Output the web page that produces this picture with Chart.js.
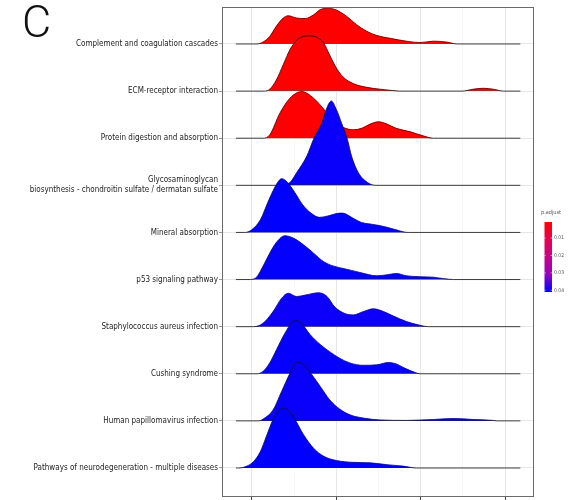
<!DOCTYPE html>
<html>
<head>
<meta charset="utf-8">
<script src="https://cdn.jsdelivr.net/npm/chart.js@4.4.1/dist/chart.umd.min.js"></script>
<style>
  html, body { margin: 0; padding: 0; background: #ffffff; }
  #wrap { position: relative; width: 572px; height: 500px; }
</style>
</head>
<body>
<div id="wrap"><canvas id="ridges" width="572" height="500"></canvas></div>
<script>
// Enriched pathways, top to bottom
const pathwayNames = [
  'Complement and coagulation cascades',
  'ECM-receptor interaction',
  'Protein digestion and absorption',
  ['Glycosaminoglycan', 'biosynthesis - chondroitin sulfate / dermatan sulfate'],
  'Mineral absorption',
  'p53 signaling pathway',
  'Staphylococcus aureus infection',
  'Cushing syndrome',
  'Human papillomavirus infection',
  'Pathways of neurodegeneration - multiple diseases'
];

// Adjusted p-values, same order
const pAdjust = [0.0008, 0.0009, 0.0010, 0.0405, 0.0410, 0.0408, 0.0402, 0.0407, 0.0404, 0.0410];

// Colour-bar labels
const legendBreaks = [0.01, 0.02, 0.03, 0.04];

// x-axis ticks
const xMajorTicks = [1, 2, 3, 4];
const xMinorTicks = [1.5, 2.5, 3.5];

// Density curves (x positions and heights, one row = 1.0)
const complementX = [0.81, 1.06, 1.13, 1.21, 1.29, 1.37, 1.43, 1.53, 1.63, 1.73, 1.81, 1.90, 2.00, 2.12, 2.24, 2.36, 2.48, 2.64, 2.83, 2.99, 3.15, 3.31, 3.43, 4.18];
const complementD = [0, 0, 0.04, 0.16, 0.38, 0.55, 0.60, 0.55, 0.54, 0.62, 0.73, 0.76, 0.72, 0.59, 0.41, 0.27, 0.18, 0.12, 0.06, 0.03, 0.06, 0.04, 0, 0];

const ecmX = [0.81, 1.15, 1.21, 1.29, 1.37, 1.45, 1.53, 1.61, 1.68, 1.77, 1.85, 1.92, 2.00, 2.08, 2.20, 2.36, 2.52, 2.67, 2.75, 3.49, 3.62, 3.74, 3.86, 3.98, 4.18];
const ecmD = [0, 0, 0.04, 0.24, 0.56, 0.88, 1.08, 1.16, 1.17, 1.14, 1.02, 0.77, 0.49, 0.30, 0.16, 0.08, 0.04, 0.01, 0, 0, 0.04, 0.06, 0.04, 0, 0];

const proteinX = [0.81, 1.13, 1.21, 1.33, 1.45, 1.59, 1.73, 1.85, 1.96, 2.08, 2.20, 2.30, 2.40, 2.50, 2.60, 2.71, 2.87, 3.03, 3.15, 4.18];
const proteinD = [0, 0, 0.07, 0.53, 0.85, 0.99, 0.85, 0.62, 0.38, 0.23, 0.18, 0.21, 0.30, 0.35, 0.30, 0.21, 0.14, 0.05, 0, 0];

const glycoX = [0.81, 1.33, 1.45, 1.53, 1.65, 1.73, 1.83, 1.88, 1.94, 2.00, 2.06, 2.13, 2.18, 2.26, 2.37, 2.47, 4.18];
const glycoD = [0, 0, 0.06, 0.27, 0.62, 0.98, 1.33, 1.61, 1.79, 1.61, 1.33, 0.98, 0.62, 0.27, 0.06, 0, 0];

const mineralX = [0.81, 0.92, 1.00, 1.10, 1.20, 1.30, 1.35, 1.40, 1.50, 1.60, 1.70, 1.80, 1.90, 2.00, 2.06, 2.10, 2.20, 2.30, 2.40, 2.50, 2.60, 2.70, 2.80, 2.85, 4.18];
const mineralD = [0, 0, 0.06, 0.27, 0.69, 1.05, 1.14, 1.10, 0.87, 0.59, 0.41, 0.32, 0.35, 0.40, 0.41, 0.40, 0.30, 0.21, 0.18, 0.15, 0.11, 0.06, 0.01, 0, 0];

const p53X = [0.81, 0.98, 1.06, 1.13, 1.21, 1.29, 1.39, 1.49, 1.61, 1.73, 1.85, 1.96, 2.12, 2.28, 2.48, 2.60, 2.71, 2.83, 2.99, 3.15, 3.27, 3.39, 4.18];
const p53D = [0, 0, 0.06, 0.28, 0.56, 0.79, 0.93, 0.88, 0.74, 0.56, 0.38, 0.29, 0.22, 0.15, 0.08, 0.10, 0.13, 0.08, 0.06, 0.05, 0.02, 0, 0];

const staphX = [0.81, 1.02, 1.13, 1.25, 1.35, 1.43, 1.53, 1.63, 1.79, 1.89, 1.98, 2.10, 2.20, 2.32, 2.44, 2.56, 2.67, 2.83, 2.99, 3.09, 4.18];
const staphD = [0, 0, 0.07, 0.32, 0.60, 0.71, 0.64, 0.67, 0.72, 0.64, 0.42, 0.28, 0.25, 0.32, 0.38, 0.32, 0.23, 0.11, 0.03, 0, 0];

const cushingX = [0.81, 1.06, 1.13, 1.21, 1.29, 1.39, 1.47, 1.52, 1.59, 1.69, 1.81, 1.92, 2.04, 2.16, 2.32, 2.48, 2.62, 2.71, 2.81, 2.93, 2.99, 4.18];
const cushingD = [0, 0, 0.05, 0.23, 0.51, 0.86, 1.08, 1.13, 1.06, 0.83, 0.62, 0.47, 0.33, 0.23, 0.18, 0.19, 0.24, 0.21, 0.12, 0.03, 0, 0];

const hpvX = [0.81, 1.08, 1.15, 1.25, 1.35, 1.45, 1.51, 1.55, 1.61, 1.71, 1.81, 1.92, 2.04, 2.16, 2.32, 2.52, 2.83, 3.15, 3.39, 3.62, 3.86, 3.90, 4.18];
const hpvD = [0, 0, 0.06, 0.23, 0.62, 1.01, 1.19, 1.24, 1.19, 0.98, 0.73, 0.45, 0.25, 0.13, 0.06, 0.02, 0.01, 0.03, 0.05, 0.03, 0.01, 0, 0];

const neuroX = [0.81, 0.84, 0.94, 1.02, 1.10, 1.17, 1.25, 1.31, 1.36, 1.43, 1.51, 1.61, 1.73, 1.85, 2.00, 2.20, 2.40, 2.60, 2.79, 2.95, 4.18];
const neuroD = [0, 0, 0.04, 0.14, 0.35, 0.67, 1.03, 1.20, 1.27, 1.23, 1.03, 0.71, 0.42, 0.25, 0.16, 0.12, 0.11, 0.07, 0.04, 0, 0];

const curves = [
  [complementX, complementD], [ecmX, ecmD], [proteinX, proteinD], [glycoX, glycoD],
  [mineralX, mineralD], [p53X, p53D], [staphX, staphD], [cushingX, cushingD],
  [hpvX, hpvD], [neuroX, neuroD]
];

// red (low p) -> blue (high p), interpolated in Lab-like steps
const gradientStops = [[255, 0, 0], [232, 0, 79], [202, 0, 137], [152, 0, 193], [0, 0, 255]];
const pMin = Math.min(...pAdjust);
const pMax = Math.max(...pAdjust);

function colourAt(t) {
  t = Math.max(0, Math.min(1, t));
  const seg = t * (gradientStops.length - 1);
  const i = Math.min(Math.floor(seg), gradientStops.length - 2);
  const f = seg - i;
  const a = gradientStops[i], b = gradientStops[i + 1];
  const c = a.map((v, k) => Math.round(v + (b[k] - v) * f));
  return `rgb(${c[0]},${c[1]},${c[2]})`;
}
function pColour(p) { return colourAt((p - pMin) / (pMax - pMin)); }

const nRows = pathwayNames.length;
// bottom row first so lower ridges are painted over upper ones
const datasets = [];
for (let i = nRows - 1; i >= 0; i--) {
  const row = nRows - i;
  const [xs, ds] = curves[i];
  datasets.push({
    label: Array.isArray(pathwayNames[i]) ? pathwayNames[i].join(' ') : pathwayNames[i],
    data: xs.map((x, j) => ({ x: x, y: row + ds[j] })),
    backgroundColor: pColour(pAdjust[i]),
    borderColor: '#111111',
    borderWidth: 0.8,
    fill: { value: row },
    pointRadius: 0,
    cubicInterpolationMode: 'monotone'
  });
}

const labelFont = '"DejaVu Sans Condensed", "DejaVu Sans", sans-serif';

const decorPlugin = {
  id: 'decor',
  afterDraw(chart) {
    const ctx = chart.ctx;
    const a = chart.chartArea;
    ctx.save();
    // panel border
    ctx.strokeStyle = '#6a6a6a';
    ctx.lineWidth = 1;
    ctx.strokeRect(a.left + 0.5, a.top + 0.5, a.right - a.left - 1, a.bottom - a.top - 1);

    // colour bar for p.adjust
    const barX = 544.5, barW = 7.5, barTop = 222, barH = 70;
    const g = ctx.createLinearGradient(0, barTop, 0, barTop + barH);
    gradientStops.forEach((s, k) => g.addColorStop(k / (gradientStops.length - 1), `rgb(${s[0]},${s[1]},${s[2]})`));
    ctx.fillStyle = g;
    ctx.fillRect(barX, barTop, barW, barH);
    ctx.fillStyle = '#555555';
    ctx.font = '5.5px ' + labelFont;
    ctx.textAlign = 'left';
    ctx.textBaseline = 'middle';
    ctx.fillText('p.adjust', 541, 213);
    ctx.font = '5px ' + labelFont;
    legendBreaks.forEach(b => {
      const y = barTop + (b - pMin) / (pMax - pMin) * barH;
      ctx.strokeStyle = 'rgba(255,255,255,0.8)';
      ctx.lineWidth = 0.6;
      ctx.beginPath();
      ctx.moveTo(barX, y); ctx.lineTo(barX + 1.5, y);
      ctx.moveTo(barX + barW - 1.5, y); ctx.lineTo(barX + barW, y);
      ctx.stroke();
      ctx.fillStyle = '#555555';
      ctx.fillText(b.toFixed(2), 554, y);
    });

    // panel tag
    ctx.fillStyle = '#111111';
    ctx.font = '300 45px Roboto, "DejaVu Sans", sans-serif';
    ctx.textAlign = 'left';
    ctx.textBaseline = 'alphabetic';
    ctx.fillText('C', 22, 37);
    ctx.restore();
  }
};

new Chart(document.getElementById('ridges'), {
  type: 'line',
  data: { datasets: datasets },
  plugins: [decorPlugin],
  options: {
    responsive: false,
    animation: false,
    events: [],
    layout: { padding: { top: 7, right: 38, bottom: 0, left: 0 } },
    plugins: {
      legend: { display: false },
      tooltip: { enabled: false },
      filler: { propagate: false }
    },
    scales: {
      x: {
        type: 'linear',
        min: 0.645,
        max: 4.342,
        afterBuildTicks: s => { s.ticks = xMajorTicks.concat(xMinorTicks).sort((a, b) => a - b).map(v => ({ value: v })); },
        afterFit: s => { s.height = 3; s.paddingLeft = 0; s.paddingRight = 0; },
        border: { display: false },
        grid: {
          color: c => (c.tick && xMajorTicks.includes(c.tick.value)) ? '#e6e6e6' : '#f3f3f3',
          lineWidth: c => (c.tick && xMajorTicks.includes(c.tick.value)) ? 1 : 0.6,
          tickColor: c => (c.tick && xMajorTicks.includes(c.tick.value)) ? '#444444' : 'rgba(0,0,0,0)',
          tickLength: 3,
          drawTicks: true
        },
        ticks: { display: false }
      },
      y: {
        type: 'linear',
        min: 0.3844,
        max: 10.785,
        afterBuildTicks: s => { s.ticks = pathwayNames.map((_, i) => ({ value: nRows - i })); },
        afterFit: s => { s.width = 222; s.paddingTop = 0; s.paddingBottom = 0; },
        border: { display: false },
        grid: {
          color: '#e6e6e6',
          lineWidth: 1,
          tickColor: '#9a9a9a',
          tickLength: 3
        },
        ticks: {
          autoSkip: false,
          padding: 1,
          color: '#222222',
          font: { family: labelFont, size: 8, lineHeight: 1.25 },
          callback: v => pathwayNames[nRows - v]
        }
      }
    }
  }
});
</script>
</body>
</html>
